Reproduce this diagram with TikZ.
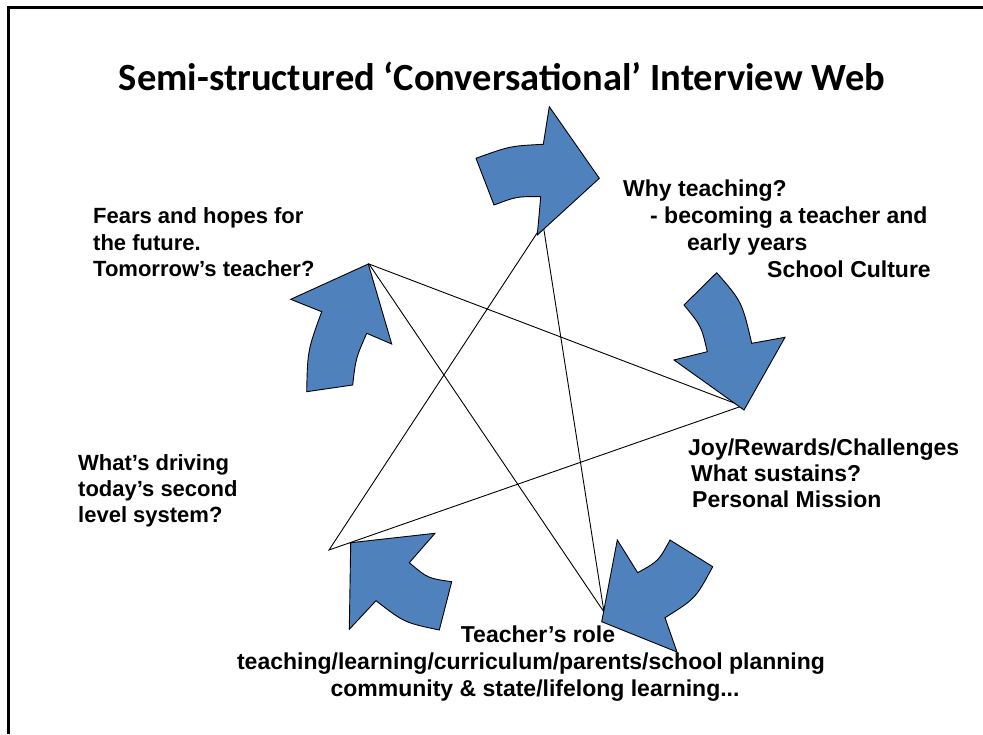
\documentclass[tikz,border=0pt]{standalone}
\usepackage{fontspec}
\setmainfont{Liberation Sans}
\newfontfamily\titlefont{Carlito}
\definecolor{arrowblue}{HTML}{4F81BD}
\tikzset{
  lbl/.style={font=\bfseries\fontsize{22}{26.5}\selectfont, anchor=base west, inner sep=0pt},
  lblb/.style={font=\bfseries\fontsize{23}{27}\selectfont, anchor=base west, inner sep=0pt},
  lblc/.style={font=\bfseries\fontsize{23}{27}\selectfont, anchor=base, inner sep=0pt},
  ttl/.style={font=\titlefont\bfseries\fontsize{38.5}{44}\selectfont, anchor=base, inner sep=0pt},
  blockarrow/.style={fill=arrowblue, draw=black, line width=0.9pt, line join=miter},
  starline/.style={draw=black, line width=0.9pt},
  frameline/.style={draw=black, line width=2.5pt}
}
\begin{document}
\begin{tikzpicture}[x=1pt,y=-1pt]
\useasboundingbox (0,0) rectangle (983,734);
% frame
\draw[frameline] (8.5,734) -- (8.5,7.5) -- (983,7.5);
% title
\node[ttl] (title) at (502,90) {Semi-structured ‘Conversational’ Interview Web};
% star vertices
\coordinate (T) at (543,224);
\coordinate (R) at (742,406);
\coordinate (BR) at (604,612);
\coordinate (BL) at (329,550);
\coordinate (L) at (369,264);
\draw[starline] (T) -- (BL) -- (R) -- (L) -- (BR) -- cycle;
% curved block arrows
\filldraw[blockarrow] (476,158.3) .. controls (510,146) .. (543.3,144.3) -- (549.3,106.7) -- (599.3,178.3) -- (537.3,235) -- (540.7,196.7) .. controls (517,196.4) .. (494,205) -- cycle;
\filldraw[blockarrow] (684,305) -- (716.7,272.7) .. controls (742,301.7) .. (751.7,343.3) -- (785,337.3) -- (744,410) -- (674,360) -- (707.3,351.7) .. controls (701.4,326.2) .. (684,305) -- cycle;
\filldraw[blockarrow] (670,540) -- (712.7,566.7) .. controls (695.6,598.5) .. (665,617.7) -- (677,652) -- (601.7,621.7) -- (617.3,540) -- (637.7,572.7) .. controls (658.6,561) .. (670,540) -- cycle;
\filldraw[blockarrow] (350.7,542.7) -- (349.3,629.3) -- (376,600.7) .. controls (404.3,622.6) .. (439.3,630) -- (451.7,581.7) .. controls (427.8,578.3) .. (409.3,562.7) -- (435,533.3) -- cycle;
\filldraw[blockarrow] (368.3,264) -- (391.7,344) -- (366.7,333.3) .. controls (355.8,358.2) .. (352.7,385) -- (306.7,391.7) .. controls (307.6,350.5) .. (321.7,311.7) -- (290.7,299.3) -- cycle;
% labels
\node[lblb] (why1) at (623,196) {Why teaching?};
\node[lblb] (why2) at (650,223) {- becoming a teacher and};
\node[lblb] (why3) at (687,250) {early years};
\node[lblb] (why4) at (767,277) {School Culture};
\node[lbl] (fear1) at (93,223) {Fears and hopes for};
\node[lbl] (fear2) at (93,250) {the future.};
\node[lbl] (fear3) at (93,276) {Tomorrow’s teacher?};
\node[lblb] (joy1) at (688,455) {Joy/Rewards/Challenges};
\node[lblb] (joy2) at (691,481.5) {What sustains?};
\node[lblb] (joy3) at (692,507.5) {Personal Mission};
\node[lbl] (drv1) at (78,470) {What’s driving};
\node[lbl] (drv2) at (78,496) {today’s second};
\node[lbl] (drv3) at (78,522) {level system?};
\node[lblc] (role1) at (538,642) {Teacher’s role};
\node[lblc] (role2) at (531,669) {teaching/learning/curriculum/parents/school planning};
\node[lblc] (role3) at (535,696) {community \& state/lifelong learning...};
\end{tikzpicture}
\end{document}
